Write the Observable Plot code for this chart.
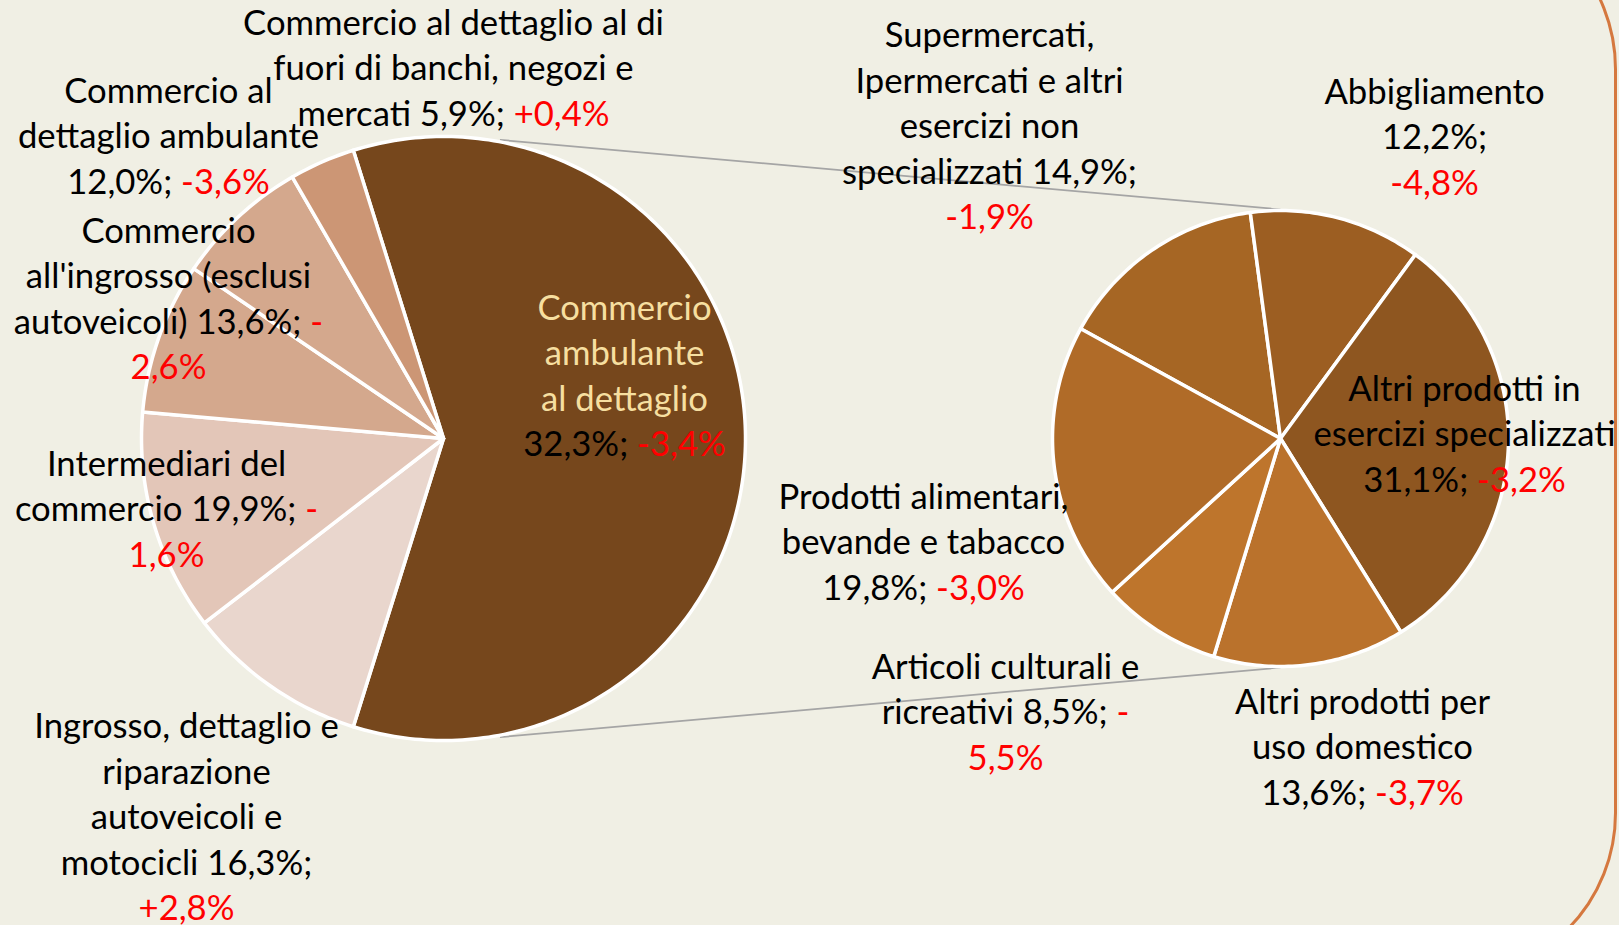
<!DOCTYPE html>
<html><head><meta charset="utf-8">
<script src="https://cdn.jsdelivr.net/npm/d3@7"></script>
<script src="https://cdn.jsdelivr.net/npm/@observablehq/plot@0.6"></script>
<style>
html,body{margin:0;padding:0;background:#F0EFE4;overflow:hidden;width:1619px;height:925px;}
#frame{position:absolute;left:-400px;top:-98px;width:2017px;height:1078px;border:3px solid #D5783F;border-radius:167px;box-sizing:border-box;}
#chart{position:absolute;left:0;top:0;}
</style></head><body>
<div id="frame"></div><div id="chart"></div>
<script>
// ---------- DATA ----------
const mainCategories = [
  "Ingrosso, dettaglio e riparazione autoveicoli e motocicli",
  "Intermediari del commercio",
  "Commercio all'ingrosso (esclusi autoveicoli)",
  "Commercio al dettaglio ambulante",
  "Commercio al dettaglio al di fuori di banchi, negozi e mercati"
];
const mainShares  = [16.3, 19.9, 13.6, 12.0, 5.9];
const mainChanges = [2.8, -1.6, -2.6, -3.6, 0.4];

const otherCategory = "Commercio ambulante al dettaglio";
const otherShare  = 32.3;
const otherChange = -3.4;

const subCategories = [
  "Supermercati, Ipermercati e altri esercizi non specializzati",
  "Abbigliamento",
  "Altri prodotti in esercizi specializzati",
  "Altri prodotti per uso domestico",
  "Articoli culturali e ricreativi",
  "Prodotti alimentari, bevande e tabacco"
];
const subShares  = [14.9, 12.2, 31.1, 13.6, 8.5, 19.8];
const subChanges = [-1.9, -4.8, -3.2, -3.7, -5.5, -3.0];

// ---------- STYLE / LAYOUT ----------
const W = 1619, H = 925;
const FONT = "Lato";
const RED = "#FF0000";
const mainColors = ["#E9D6CD", "#E3C6B8", "#D4A88D", "#D4A88D", "#CC9675"];
const otherColor = "#76471C";
const otherLabelColor = "#F6DFA0";
const subColors = ["#A66624", "#9C5E22", "#8E5620", "#BA722C", "#BE752C", "#B06B28"];
const leftPie  = {cx: 443, cy: 438, r: 302};
const rightPie = {cx: 1280, cy: 438, r: 228};
const subStartDeg = 298.8;
const connectorDeg = 10.7;
const lineGap = 45.5;
const mainLabelPos = [[186, 814], [166, 506], [168, 296], [168, 133], [453, 65]];
const mainWrap = [[3,1,2,2,2], [2,3,1], [1,2,3,1], [2,2,3], [5,5,4]];
const otherLabelPos = [624, 373];
const otherWrap = [1,1,2,3];
const subLabelPos = [[989, 123], [1434, 134], [1464, 431], [1362, 744], [1005, 709], [923, 539]];
const subWrap = [[1,3,2,2,2], [1,1,2], [3,2,3], [3,2,3], [3,3,1], [2,3,3]];

// ---------- HELPERS ----------
const fmt = v => d3.format(".1f")(Math.abs(v)).replace(".", ",");
function labelText(name, share, change, wrap) {
  const toks = name.split(" ").map(t => ({t, glue: false}));
  toks.push({t: fmt(share) + "%;", glue: false});
  toks.push({t: change >= 0 ? "+" : "-", glue: false});
  toks.push({t: fmt(change) + "%", glue: true});
  const lines = [];
  let k = 0;
  for (const n of wrap) {
    let s = "";
    for (let j = 0; j < n; j++, k++) {
      const tk = toks[k];
      s += (s === "" ? "" : (tk.glue ? "" : " ")) + tk.t;
    }
    lines.push(s);
  }
  return lines.join("\n");
}
function slicePoints(pie, a0, a1, id) {
  const pts = [{x: pie.cx, y: pie.cy, id}];
  const n = Math.max(4, Math.ceil((a1 - a0) / (Math.PI / 180)));
  for (let i = 0; i <= n; i++) {
    const a = a0 + (a1 - a0) * i / n;
    pts.push({x: pie.cx + pie.r * Math.sin(a), y: pie.cy - pie.r * Math.cos(a), id});
  }
  return pts;
}
function measure(str, size) {
  const c = document.createElement("canvas").getContext("2d");
  c.font = `${size}px ${FONT}`;
  return c.measureText(str).width;
}
const fs = 30 * 421 / measure("Commercio al dettaglio al di", 30);

// ---------- PIE GEOMETRY ----------
const otherValue = d3.sum(subShares);
const leftValues = [otherValue, ...mainShares];
const leftTotal = d3.sum(leftValues);
const leftStart = Math.PI / 2 - Math.PI * otherValue / leftTotal;
const leftArcs = d3.pie().sort(null).startAngle(leftStart).endAngle(leftStart + 2 * Math.PI)(leftValues);
const leftColors = [otherColor, ...mainColors];
const leftSlices = leftArcs.map((a, i) => ({color: leftColors[i], pts: slicePoints(leftPie, a.startAngle, a.endAngle, "L" + i)}));

const subStart = subStartDeg * Math.PI / 180;
const rightArcs = d3.pie().sort(null).startAngle(subStart).endAngle(subStart + 2 * Math.PI)(subShares);
const rightSlices = rightArcs.map((a, i) => ({color: subColors[i], pts: slicePoints(rightPie, a.startAngle, a.endAngle, "R" + i)}));

const ca = connectorDeg * Math.PI / 180;
const rEdge = leftPie.r + 2;
const connectors = [
  {x1: leftPie.cx + rEdge * Math.sin(ca), y1: leftPie.cy - rEdge * Math.cos(ca), x2: rightPie.cx, y2: rightPie.cy - rightPie.r - 1},
  {x1: leftPie.cx + rEdge * Math.sin(ca), y1: leftPie.cy + rEdge * Math.cos(ca), x2: rightPie.cx, y2: rightPie.cy + rightPie.r + 1}
];

// ---------- LABELS ----------
const labels = [];
mainCategories.forEach((c, i) => labels.push({x: mainLabelPos[i][0], y: mainLabelPos[i][1], fill: "#000", text: labelText(c, mainShares[i], mainChanges[i], mainWrap[i])}));
labels.push({x: otherLabelPos[0], y: otherLabelPos[1], fill: otherLabelColor, text: labelText(otherCategory, otherShare, otherChange, otherWrap)});
subCategories.forEach((c, i) => labels.push({x: subLabelPos[i][0], y: subLabelPos[i][1], fill: "#000", text: labelText(c, subShares[i], subChanges[i], subWrap[i])}));

// ---------- PLOT ----------
const sliceMark = s => Plot.line(s.pts, {x: "x", y: "y", curve: "linear-closed", fill: s.color, stroke: "#FFFFFF", strokeWidth: 3.5, strokeLinejoin: "round"});
const plot = Plot.plot({
  width: W, height: H, margin: 0,
  x: {domain: [0, W], range: [0, W], axis: null},
  y: {domain: [0, H], range: [0, H], axis: null},
  color: {type: "identity"},
  style: {background: "transparent", overflow: "visible"},
  marks: [
    Plot.link(connectors, {x1: "x1", y1: "y1", x2: "x2", y2: "y2", stroke: "#A5A5A5", strokeWidth: 1.75}),
    ...leftSlices.map(sliceMark),
    ...rightSlices.map(sliceMark),
    Plot.text(labels, {x: "x", y: "y", text: "text", fill: "fill", fontFamily: FONT, fontSize: fs,
      lineHeight: lineGap / fs, textAnchor: "middle", lineAnchor: "middle"})
  ]
});

// colour the numeric parts: share in black, change in red
const svgNS = "http://www.w3.org/2000/svg";
d3.select(plot).selectAll("text").each(function() {
  let red = false;
  d3.select(this).selectAll("tspan").nodes().forEach(sp => {
    const s = sp.textContent;
    if (red) { sp.setAttribute("fill", RED); return; }
    const i = s.indexOf(";");
    if (i >= 0) {
      red = true;
      sp.textContent = "";
      const a = document.createElementNS(svgNS, "tspan");
      a.setAttribute("fill", "#000");
      a.textContent = s.slice(0, i + 1);
      sp.appendChild(a);
      const rest = s.slice(i + 1);
      if (rest.length) {
        const b = document.createElementNS(svgNS, "tspan");
        b.setAttribute("fill", RED);
        b.setAttribute("xml:space", "preserve");
        b.textContent = rest;
        sp.appendChild(b);
      }
    }
  });
});
document.getElementById("chart").appendChild(plot);
</script>
</body></html>
